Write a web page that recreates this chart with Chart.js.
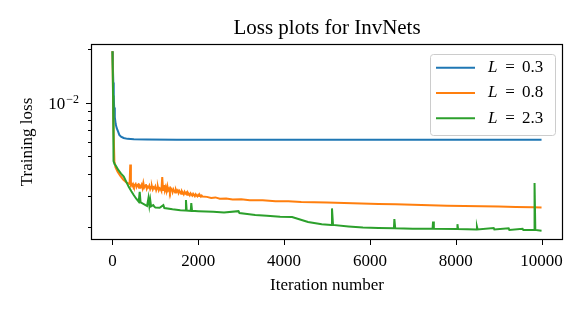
<!DOCTYPE html>
<html>
<head>
<meta charset="utf-8">
<script src="https://cdn.jsdelivr.net/npm/chart.js@4.4.1/dist/chart.umd.min.js"></script>
<style>
  html, body { margin: 0; padding: 0; background: #fff; }
  #wrap { width: 585px; height: 312px; }
</style>
</head>
<body>
<div id="wrap"><canvas id="chart" width="585" height="312"></canvas></div>
<script>
// Data
const chartTitle = 'Loss plots for InvNets';
const seriesLabels = ['0.3', '0.8', '2.3'];
const seriesColors = ['#1f77b4', '#ff7f0e', '#2ca02c'];

const blueIter = [0, 10, 20, 30, 40, 55, 75, 100, 130, 160, 200, 260, 350, 500, 800, 1500, 3000, 6000, 10000];
const blueLoss = [0.0195, 0.016, 0.013, 0.0108, 0.0094, 0.0083, 0.0076, 0.0072, 0.0069, 0.0066, 0.00645, 0.00634, 0.00627, 0.00623, 0.00621, 0.0062, 0.0062, 0.0062, 0.0062];

const orangeIter = [0, 20, 45, 70, 120, 180, 250, 330, 400, 415, 430,
  440, 460, 480, 500, 520, 540, 560, 580, 600, 620, 640, 660, 680, 700, 720, 740, 760, 780, 800, 820,
  840, 860, 880, 900, 920, 940, 960, 980, 1000, 1020, 1040, 1060, 1080, 1100, 1120, 1140, 1160, 1180, 1200, 1220,
  1240, 1260, 1280, 1300, 1320, 1340, 1360, 1380, 1400, 1420, 1440, 1460, 1480, 1500, 1520, 1540, 1560, 1580, 1600, 1620,
  1640, 1660, 1680, 1700, 1720, 1740, 1760, 1780, 1800, 1820, 1840, 1860, 1880, 1900, 1920, 1940, 1960, 1980, 2000, 2020,
  2040, 2060, 2080, 2100, 2200, 2300, 2400, 2500, 2650, 2800, 3000, 3200, 3500, 3800, 4100, 4400, 4700, 5000, 5400, 5800,
  6200, 6600, 7000, 7400, 7800, 8200, 8600, 9000, 9400, 9800, 10000];
const orangeLoss = [0.0195, 0.0080, 0.0047, 0.00435, 0.0041, 0.0039, 0.0037, 0.00356, 0.00350, 0.00450, 0.00348,
  0.00352, 0.00341, 0.00349, 0.00338, 0.00345, 0.00350, 0.00336, 0.00344, 0.00347, 0.00333, 0.00342, 0.00337, 0.00346, 0.00332, 0.00354, 0.00334, 0.00341, 0.00349, 0.00329, 0.00338,
  0.00335, 0.00343, 0.00327, 0.00336, 0.00340, 0.00326, 0.00335, 0.00331, 0.00339, 0.00323, 0.00333, 0.00337, 0.00322, 0.00331, 0.00328, 0.00320, 0.00382, 0.00324, 0.00345, 0.00321,
  0.00335, 0.00319, 0.00340, 0.00322, 0.00329, 0.00316, 0.00331, 0.00325, 0.00314, 0.00327, 0.00320, 0.00313, 0.00325, 0.00317, 0.00322, 0.00311, 0.00320, 0.00315, 0.00308, 0.00318,
  0.00312, 0.00306, 0.00316, 0.00309, 0.00313, 0.00304, 0.00312, 0.00307, 0.00302, 0.00310, 0.00305, 0.00301, 0.00308, 0.00303, 0.00299, 0.00306, 0.00301, 0.00298, 0.00304, 0.00299,
  0.00302, 0.00297, 0.00301, 0.00297, 0.00296, 0.00292, 0.00294, 0.00289, 0.00290, 0.00286, 0.00287, 0.00283, 0.00283, 0.00280, 0.00280, 0.00277, 0.00276, 0.00275, 0.00273, 0.00272,
  0.00270, 0.00269, 0.00267, 0.00266, 0.00264, 0.00263, 0.00262, 0.00261, 0.00260, 0.00259, 0.00258];

const greenIter = [0, 15, 25, 50, 70, 140, 200, 263, 326, 379, 440, 495, 550, 612, 635, 655, 700, 750, 807, 840,
  860, 880, 900, 950, 980, 1000, 1100, 1186, 1210, 1400, 1581, 1700, 1713, 1730, 1825, 1837, 1855, 2000, 2349, 2600,
  2937, 2960, 3140, 3326, 3600, 3907, 4186, 4372, 4558, 4877, 5100, 5116, 5140, 5500, 5837, 6200, 6560, 6570, 6590, 7000,
  7460, 7472, 7490, 8030, 8040, 8055, 8485, 8495, 8510, 8884, 8900, 9233, 9250, 9558, 9575, 9825, 9837, 9855, 10000];
const greenLoss = [0.0195, 0.0110, 0.0047, 0.00452, 0.00446, 0.00418, 0.00400, 0.00385, 0.00358, 0.00337, 0.00318, 0.00303, 0.00290, 0.00278, 0.00316, 0.00276, 0.00272, 0.00268, 0.00263, 0.00292,
  0.00264, 0.00285, 0.00262, 0.00266, 0.00260, 0.00258, 0.00257, 0.00266, 0.00256, 0.00252, 0.00249, 0.00248, 0.00284, 0.00248, 0.00247, 0.00273, 0.00247, 0.00246, 0.00244, 0.00242,
  0.00246, 0.00240, 0.00237, 0.00234, 0.00232, 0.00229, 0.00228, 0.00221, 0.00214, 0.00208, 0.00206, 0.00255, 0.00206, 0.00202, 0.00199, 0.00198, 0.00197, 0.00222, 0.00197, 0.00196,
  0.00196, 0.00215, 0.00196, 0.00195, 0.00208, 0.00195, 0.00194, 0.00201, 0.00194, 0.00198, 0.00194, 0.00197, 0.00193, 0.00196, 0.00193, 0.00193, 0.00354, 0.00193, 0.00191];

const xTickValues = [0, 2000, 4000, 6000, 8000, 10000];
const yTickValues = [0.002, 0.003, 0.004, 0.005, 0.006, 0.007, 0.008, 0.009, 0.01, 0.02];
const yMajorTick = 0.01;

function pairs(xs, ys) {
  return xs.map((x, i) => ({ x: x, y: ys[i] }));
}

const FONT = "'Liberation Serif', 'Times New Roman', serif";

// title, frame, tick marks, y tick label and legend drawn in matplotlib style
const mplPlugin = {
  id: 'mplStyle',
  afterDraw(chart) {
    const ctx = chart.ctx;
    const a = chart.chartArea;
    const xs = chart.scales.x;
    const ys = chart.scales.y;
    ctx.save();

    ctx.fillStyle = '#000';
    ctx.font = '21px ' + FONT;
    ctx.textAlign = 'center';
    ctx.textBaseline = 'middle';
    ctx.fillText(chartTitle, (a.left + a.right) / 2, 28);

    ctx.strokeStyle = '#000';
    ctx.lineWidth = 1.2;
    ctx.strokeRect(Math.round(a.left) + 0.5, Math.round(a.top) + 0.5,
      Math.round(a.right - a.left) - 1, Math.round(a.bottom - a.top) - 1);

    ctx.lineWidth = 1;
    ctx.beginPath();
    xs.ticks.forEach(t => {
      const px = Math.round(xs.getPixelForValue(t.value)) + 0.5;
      ctx.moveTo(px, a.bottom);
      ctx.lineTo(px, a.bottom + 5);
    });
    ys.ticks.forEach(t => {
      const py = Math.round(ys.getPixelForValue(t.value)) + 0.5;
      const len = t.value === yMajorTick ? 5 : 3;
      ctx.moveTo(a.left, py);
      ctx.lineTo(a.left - len, py);
    });
    ctx.stroke();

    // 10^-2 label
    const py = ys.getPixelForValue(yMajorTick);
    const right = a.left - 12;
    ctx.textAlign = 'left';
    ctx.textBaseline = 'alphabetic';
    ctx.font = '12px ' + FONT;
    const sup = '\u22122';
    const supW = ctx.measureText(sup).width;
    ctx.font = '17px ' + FONT;
    const baseW = ctx.measureText('10').width;
    ctx.fillText('10', right - supW - baseW - 1, py + 6.5);
    ctx.font = '12px ' + FONT;
    ctx.fillText(sup, right - supW, py + 0.5);

    // legend
    const bw = 125, bh = 81;
    const bx = a.right - 8 - bw, by = a.top + 10;
    ctx.beginPath();
    ctx.roundRect(bx + 0.5, by + 0.5, bw, bh, 3);
    ctx.fillStyle = 'rgba(255,255,255,0.8)';
    ctx.fill();
    ctx.strokeStyle = '#cccccc';
    ctx.lineWidth = 1;
    ctx.stroke();
    chart.data.datasets.forEach((ds, i) => {
      const ly = by + 13.7 + i * 25.3;
      ctx.beginPath();
      ctx.strokeStyle = ds.borderColor;
      ctx.lineWidth = 2;
      ctx.moveTo(bx + 6, ly);
      ctx.lineTo(bx + 45, ly);
      ctx.stroke();
      ctx.fillStyle = '#000';
      ctx.textBaseline = 'middle';
      ctx.textAlign = 'left';
      ctx.font = 'italic 17px ' + FONT;
      ctx.fillText('L', bx + 58, ly);
      ctx.font = '17px ' + FONT;
      ctx.textAlign = 'center';
      ctx.fillText('=', bx + 80, ly);
      ctx.textAlign = 'left';
      ctx.fillText(seriesLabels[i], bx + 92, ly);
    });
    ctx.restore();
  }
};

const ctx = document.getElementById('chart').getContext('2d');
new Chart(ctx, {
  type: 'line',
  data: {
    datasets: [
      { label: 'L = ' + seriesLabels[0], data: pairs(blueIter, blueLoss), borderColor: seriesColors[0], order: 2 },
      { label: 'L = ' + seriesLabels[1], data: pairs(orangeIter, orangeLoss), borderColor: seriesColors[1], order: 1 },
      { label: 'L = ' + seriesLabels[2], data: pairs(greenIter, greenLoss), borderColor: seriesColors[2], order: 0 }
    ]
  },
  options: {
    responsive: false,
    animation: false,
    devicePixelRatio: 1,
    layout: { padding: { left: 0, right: 22, top: 44, bottom: 0 } },
    elements: {
      line: { borderWidth: 2, tension: 0, fill: false },
      point: { radius: 0 }
    },
    plugins: {
      legend: { display: false },
      tooltip: { enabled: false },
      title: { display: false }
    },
    scales: {
      x: {
        type: 'linear',
        min: -500,
        max: 10500,
        grid: { display: false, drawTicks: false },
        border: { display: false },
        afterBuildTicks: s => { s.ticks = xTickValues.map(v => ({ value: v })); },
        afterFit: s => { s.height = 72; },
        ticks: {
          color: '#000',
          font: { family: FONT, size: 17 },
          padding: 11,
          maxRotation: 0,
          callback: v => String(v)
        },
        title: {
          display: true,
          text: 'Iteration number',
          color: '#000',
          font: { family: FONT, size: 17 },
          padding: { top: 0, bottom: 16 }
        }
      },
      y: {
        type: 'logarithmic',
        min: 0.001694,
        max: 0.0214,
        grid: { display: false, drawTicks: false },
        border: { display: false },
        afterBuildTicks: s => { s.ticks = yTickValues.map(v => ({ value: v })); },
        afterFit: s => { s.width = 91; },
        ticks: { display: false },
        title: {
          display: true,
          text: 'Training loss',
          color: '#000',
          font: { family: FONT, size: 17 },
          padding: { top: 17, bottom: 0 }
        }
      }
    }
  },
  plugins: [mplPlugin]
});
</script>
</body>
</html>
